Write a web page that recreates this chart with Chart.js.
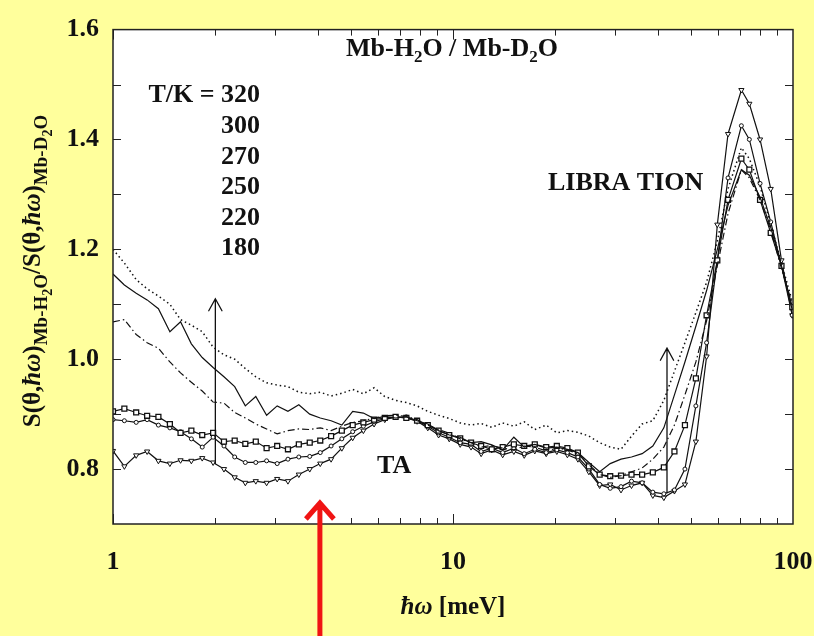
<!DOCTYPE html>
<html>
<head>
<meta charset="utf-8">
<script src="https://cdn.jsdelivr.net/npm/chart.js@4.4.1/dist/chart.umd.min.js"></script>
<style>
  html, body { margin: 0; padding: 0; background: #ffff9c; }
  #wrap { width: 814px; height: 636px; }
</style>
</head>
<body>
<div id="wrap"><canvas id="ratioChart" width="814" height="636"></canvas></div>
<script>
// energy transfer (meV)
const energy = [
  1.00, 1.08, 1.17, 1.26, 1.36, 1.47, 1.58, 1.70, 1.83, 1.97,
  2.12, 2.28, 2.45, 2.63, 2.83, 3.04, 3.27, 3.52, 3.79, 4.07,
  4.38, 4.71, 5.07, 5.45, 5.86, 6.30, 6.78, 7.29, 7.84, 8.43,
  9.07, 9.75, 10.5, 11.3, 12.1, 13.0, 14.0, 15.1, 16.2, 17.4,
  18.8, 20.2, 21.7, 23.3, 25.1, 27.0, 29.0, 31.2, 33.5, 36.0,
  38.7, 41.7, 44.8, 48.1, 51.8, 55.7, 59.9, 64.4, 70.5, 74.4,
  80.0, 86.0, 92.5, 99.5
];

// ratio S(H2O)/S(D2O) per temperature
const ratio320 = [
  1.200, 1.175, 1.145, 1.128, 1.115, 1.100, 1.072, 1.062, 1.050, 1.022,
  1.008, 1.000, 0.983, 0.968, 0.957, 0.953, 0.950, 0.940, 0.937, 0.940,
  0.933, 0.938, 0.945, 0.937, 0.948, 0.932, 0.925, 0.921, 0.915, 0.905,
  0.898, 0.892, 0.884, 0.880, 0.883, 0.876, 0.884, 0.878, 0.886, 0.872,
  0.880, 0.866, 0.870, 0.867, 0.860, 0.848, 0.840, 0.836, 0.860, 0.882,
  0.888, 0.925, 0.978, 1.030, 1.085, 1.140, 1.215, 1.310, 1.385, 1.365,
  1.315, 1.245, 1.175, 1.105
];
const ratio300 = [
  1.155, 1.135, 1.120, 1.108, 1.092, 1.050, 1.068, 1.028, 1.003, 0.985,
  0.968, 0.950, 0.915, 0.932, 0.898, 0.915, 0.905, 0.917, 0.900, 0.893,
  0.888, 0.880, 0.905, 0.902, 0.892, 0.896, 0.893, 0.895, 0.888, 0.882,
  0.870, 0.862, 0.858, 0.848, 0.850, 0.844, 0.835, 0.858, 0.840, 0.845,
  0.838, 0.840, 0.836, 0.830, 0.812, 0.795, 0.810, 0.818, 0.822, 0.828,
  0.842, 0.875, 0.935, 0.995, 1.060, 1.125, 1.200, 1.280, 1.345, 1.335,
  1.295, 1.240, 1.170, 1.090
];
const ratio270 = [
  1.068, 1.072, 1.045, 1.030, 1.020, 0.995, 0.975, 0.958, 0.942, 0.922,
  0.920, 0.903, 0.893, 0.882, 0.873, 0.864, 0.870, 0.873, 0.872, 0.875,
  0.870, 0.878, 0.885, 0.888, 0.893, 0.897, 0.898, 0.896, 0.890, 0.880,
  0.872, 0.865, 0.855, 0.848, 0.840, 0.843, 0.838, 0.835, 0.842, 0.840,
  0.833, 0.838, 0.835, 0.828, 0.808, 0.790, 0.785, 0.788, 0.795, 0.802,
  0.818, 0.840, 0.880, 0.935, 0.995, 1.070, 1.170, 1.265, 1.345, 1.330,
  1.290, 1.235, 1.165, 1.100
];
const ratio250 = [
  0.905, 0.910, 0.903, 0.897, 0.895, 0.882, 0.866, 0.870, 0.862, 0.866,
  0.850, 0.852, 0.846, 0.850, 0.838, 0.842, 0.836, 0.845, 0.848, 0.852,
  0.860, 0.870, 0.880, 0.885, 0.890, 0.893, 0.895, 0.893, 0.888, 0.880,
  0.870, 0.862, 0.856, 0.848, 0.842, 0.836, 0.840, 0.845, 0.842, 0.845,
  0.840, 0.842, 0.838, 0.830, 0.805, 0.790, 0.787, 0.788, 0.790, 0.790,
  0.794, 0.803, 0.832, 0.880, 0.965, 1.080, 1.180, 1.290, 1.365, 1.345,
  1.290, 1.230, 1.170, 1.095
];
const ratio220 = [
  0.890, 0.888, 0.885, 0.890, 0.880, 0.875, 0.868, 0.855, 0.840, 0.858,
  0.842, 0.822, 0.812, 0.812, 0.815, 0.810, 0.818, 0.822, 0.823, 0.830,
  0.842, 0.855, 0.868, 0.878, 0.886, 0.892, 0.894, 0.895, 0.888, 0.878,
  0.866, 0.858, 0.848, 0.845, 0.832, 0.838, 0.830, 0.838, 0.828, 0.836,
  0.830, 0.835, 0.830, 0.822, 0.800, 0.772, 0.765, 0.768, 0.778, 0.775,
  0.758, 0.755, 0.762, 0.800, 0.915, 1.030, 1.180, 1.330, 1.425, 1.400,
  1.320, 1.250, 1.170, 1.080
];
const ratio180 = [
  0.833, 0.805, 0.825, 0.832, 0.815, 0.810, 0.816, 0.815, 0.820, 0.812,
  0.800, 0.785, 0.775, 0.778, 0.775, 0.782, 0.778, 0.790, 0.800, 0.810,
  0.818, 0.838, 0.857, 0.870, 0.882, 0.890, 0.895, 0.893, 0.887, 0.875,
  0.862, 0.855, 0.845, 0.840, 0.828, 0.835, 0.826, 0.832, 0.825, 0.833,
  0.828, 0.832, 0.826, 0.818, 0.795, 0.770, 0.772, 0.762, 0.770, 0.775,
  0.752, 0.748, 0.760, 0.772, 0.850, 1.005, 1.245, 1.410, 1.490, 1.465,
  1.400, 1.310, 1.180, 1.080
];

const temps = ["320", "300", "270", "250", "220", "180"];
const xTickValues = [1, 10, 100];
const yTickValues = [0.8, 1.0, 1.2, 1.4, 1.6];

const SERIF = "'Liberation Serif', 'DejaVu Serif', serif";
const toPoints = (vals) => energy.map((e, i) => ({ x: e, y: vals[i] }));

const datasets = [
  { label: "320 K", data: toPoints(ratio320), borderDash: [1.5, 3], borderWidth: 1.5, pointRadius: 0 },
  { label: "300 K", data: toPoints(ratio300), borderWidth: 1.2, pointRadius: 0 },
  { label: "270 K", data: toPoints(ratio270), borderDash: [7, 3, 1.5, 3], borderWidth: 1.2, pointRadius: 0 },
  { label: "250 K", data: toPoints(ratio250), borderWidth: 1.2, pointStyle: "rect", pointRadius: 3.5, pointBorderWidth: 1.3 },
  { label: "220 K", data: toPoints(ratio220), borderWidth: 1.2, pointStyle: "circle", pointRadius: 2, pointBorderWidth: 1 },
  { label: "180 K", data: toPoints(ratio180), borderWidth: 1.2, pointStyle: "triangle", pointRotation: 180, pointRadius: 3, pointBorderWidth: 1 },
].map((d) => ({
  borderColor: "#111",
  backgroundColor: "#fff",
  pointBackgroundColor: "#fff",
  pointBorderColor: "#111",
  pointHoverRadius: 0,
  tension: 0,
  fill: false,
  ...d,
}));

/* ---------- helpers ---------- */
function richWidth(ctx, runs) {
  let w = 0;
  runs.forEach((r) => { ctx.font = r.font; w += ctx.measureText(r.t).width; });
  return w;
}
function drawRich(ctx, runs, x, y) {
  runs.forEach((r) => {
    ctx.font = r.font;
    ctx.fillText(r.t, x, y + (r.dy || 0));
    x += ctx.measureText(r.t).width;
  });
}
function arrow(ctx, x, y0, y1, head, width, color) {
  ctx.save();
  ctx.strokeStyle = color;
  ctx.lineWidth = width;
  ctx.lineCap = "round";
  ctx.beginPath();
  ctx.moveTo(x, y0);
  ctx.lineTo(x, y1);
  ctx.moveTo(x - head * 0.55, y1 + head);
  ctx.lineTo(x, y1);
  ctx.lineTo(x + head * 0.55, y1 + head);
  ctx.stroke();
  ctx.restore();
}

/* ---------- background + frame ---------- */
const backdrop = {
  id: "backdrop",
  beforeDraw(chart) {
    const { ctx, chartArea: a } = chart;
    ctx.save();
    ctx.fillStyle = "#ffff9c";
    ctx.fillRect(0, 0, chart.width, chart.height);
    ctx.fillStyle = "#ffffff";
    ctx.fillRect(a.left, a.top, a.right - a.left, a.bottom - a.top);
    ctx.restore();
  },
};

const frame = {
  id: "frame",
  afterDatasetsDraw(chart) {
    const { ctx, chartArea: a, scales: { x, y } } = chart;
    ctx.save();
    ctx.strokeStyle = "#222";
    ctx.lineWidth = 1;
    ctx.beginPath();
    for (let k = 0; k < 2; k++) {
      for (let d = 1; d < 10; d++) {
        const px = Math.round(x.getPixelForValue(d * Math.pow(10, k))) + 0.5;
        const len = d === 1 ? 10 : 6;
        ctx.moveTo(px, a.bottom); ctx.lineTo(px, a.bottom - len);
        ctx.moveTo(px, a.top); ctx.lineTo(px, a.top + len);
      }
    }
    for (let i = 1; i < 9; i++) {
      const py = Math.round(y.getPixelForValue(0.7 + i * 0.1)) + 0.5;
      ctx.moveTo(a.left, py); ctx.lineTo(a.left + 8, py);
      ctx.moveTo(a.right, py); ctx.lineTo(a.right - 8, py);
    }
    ctx.stroke();
    ctx.lineWidth = 1.5;
    ctx.strokeRect(a.left, a.top, a.right - a.left, a.bottom - a.top);
    ctx.restore();
  },
};

/* ---------- annotations ---------- */
const notes = {
  id: "notes",
  afterDraw(chart) {
    const { ctx, scales: { x, y } } = chart;
    const main = "bold 26px " + SERIF;
    const sub = "bold 17px " + SERIF;
    ctx.save();
    ctx.fillStyle = "#111";
    ctx.textBaseline = "alphabetic";

    // title inside plot
    const title = [
      { t: "Mb-H", font: main }, { t: "2", font: sub, dy: 6 }, { t: "O / Mb-D", font: main },
      { t: "2", font: sub, dy: 6 }, { t: "O", font: main },
    ];
    drawRich(ctx, title, 452 - richWidth(ctx, title) / 2, 56);

    // temperature list
    ctx.font = main;
    ctx.textAlign = "right";
    ctx.fillText("T/K = " + temps[0], 260, 102);
    temps.slice(1).forEach((t, i) => ctx.fillText(t, 260, 133 + i * 30.5));
    ctx.textAlign = "left";
    ctx.fillText("LIBRA TION", 548, 190);
    ctx.fillText("TA", 377, 473);

    // black arrows
    arrow(ctx, x.getPixelForValue(2.0), y.getPixelForValue(0.81), y.getPixelForValue(1.11), 12, 1.3, "#111");
    arrow(ctx, x.getPixelForValue(42.6), y.getPixelForValue(0.757), y.getPixelForValue(1.02), 12, 1.3, "#111");

    // red arrow from below the plot
    const rx = x.getPixelForValue(4.06);
    ctx.save();
    ctx.strokeStyle = "#f01414";
    ctx.lineWidth = 5;
    ctx.beginPath();
    ctx.moveTo(rx, chart.height);
    ctx.lineTo(rx, 503);
    ctx.moveTo(rx - 14, 519);
    ctx.lineTo(rx, 503);
    ctx.lineTo(rx + 14, 519);
    ctx.stroke();
    ctx.restore();

    // x axis title
    const xTitle = [
      { t: "ħω", font: "italic bold 25px " + SERIF }, { t: " [meV]", font: "bold 25px " + SERIF },
    ];
    drawRich(ctx, xTitle, 453 - richWidth(ctx, xTitle) / 2, 614);

    // y axis title, rotated
    const ymain = "bold 25px " + SERIF;
    const yital = "italic bold 25px " + SERIF;
    const ysub = "bold 19px " + SERIF;
    const ysub2 = "bold 14px " + SERIF;
    const yTitle = [
      { t: "S(θ,", font: ymain }, { t: "ħω", font: yital }, { t: ")", font: ymain },
      { t: "Mb-H", font: ysub, dy: 7 }, { t: "2", font: ysub2, dy: 12 }, { t: "O", font: ysub, dy: 7 },
      { t: "/S(θ,", font: ymain }, { t: "ħω", font: yital }, { t: ")", font: ymain },
      { t: "Mb-D", font: ysub, dy: 7 }, { t: "2", font: ysub2, dy: 12 }, { t: "O", font: ysub, dy: 7 },
    ];
    ctx.translate(40, 271);
    ctx.rotate(-Math.PI / 2);
    drawRich(ctx, yTitle, -richWidth(ctx, yTitle) / 2, 0);
    ctx.restore();
  },
};

new Chart(document.getElementById("ratioChart"), {
  type: "line",
  data: { datasets },
  options: {
    responsive: false,
    animation: false,
    layout: { padding: { top: 20, right: 21, left: 0, bottom: 0 } },
    plugins: { legend: { display: false }, tooltip: { enabled: false } },
    scales: {
      x: {
        type: "logarithmic",
        min: 1,
        max: 100,
        grid: { display: false, drawTicks: false },
        border: { display: false },
        afterBuildTicks: (axis) => { axis.ticks = xTickValues.map((v) => ({ value: v })); },
        afterFit: (axis) => { axis.height = 112; axis.paddingLeft = 0; axis.paddingRight = 0; },
        ticks: {
          autoSkip: false,
          maxRotation: 0,
          padding: 23,
          color: "#111",
          font: { family: SERIF, weight: "bold", size: 26 },
          callback: (v) => String(v),
        },
      },
      y: {
        min: 0.7,
        max: 1.6,
        grid: { display: false, drawTicks: false },
        border: { display: false },
        afterBuildTicks: (axis) => { axis.ticks = yTickValues.map((v) => ({ value: v })); },
        afterFit: (axis) => { axis.width = 113; },
        ticks: {
          padding: 14,
          color: "#111",
          font: { family: SERIF, weight: "bold", size: 26 },
          callback: (v) => v.toFixed(1),
        },
      },
    },
  },
  plugins: [backdrop, frame, notes],
});
</script>
</body>
</html>
